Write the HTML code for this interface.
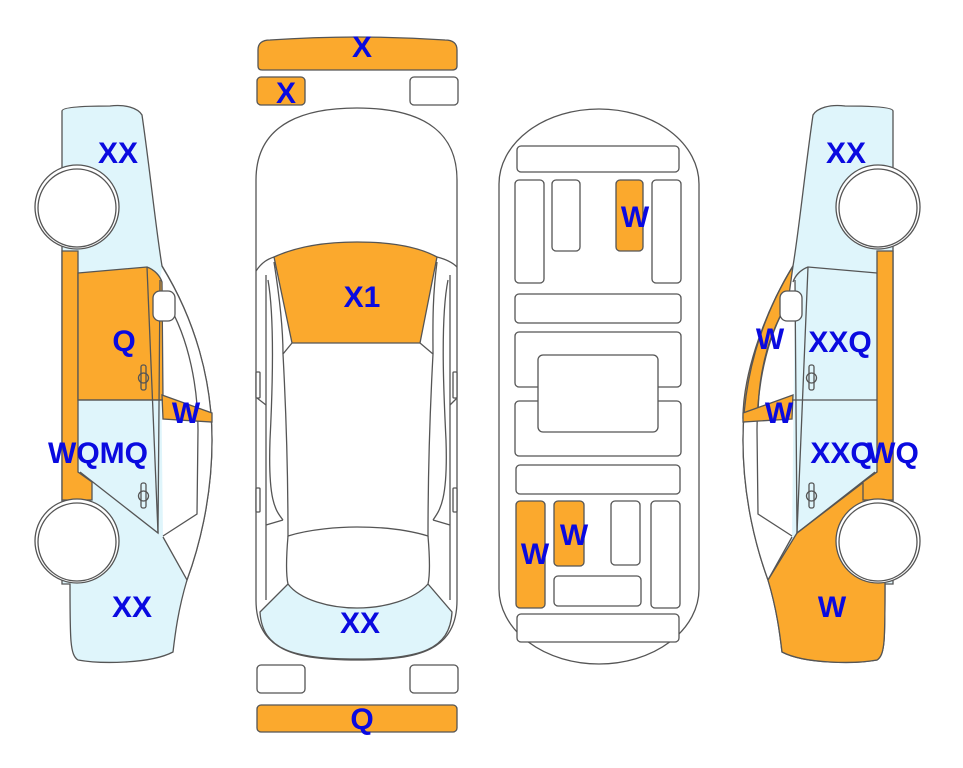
<!DOCTYPE html>
<html><head><meta charset="utf-8"><style>
html,body{margin:0;padding:0;background:#fff;}
svg{display:block;}
text{font-family:"Liberation Sans",Arial,sans-serif;font-weight:bold;font-size:30px;fill:#0a0ae0;text-anchor:middle;}
</style></head><body>
<svg width="963" height="768" viewBox="0 0 963 768" xmlns="http://www.w3.org/2000/svg">

<!-- LEFT SIDE CAR -->
<g stroke="#555" stroke-width="1.3">
  <path d="M62,111 C62,106 100,106 110,106 C125,104 138,108 142,115 C150,170 156,230 162,266 C195,320 212,380 212,440 C212,500 198,550 187,580 C178,610 175,635 173,652 C150,664 100,664 78,660 C70,655 70,640 70,584 L62,584 L62,111 Z" fill="#dff5fb"/>
  <path d="M162,268 C195,320 212,380 212,440 C212,500 198,550 187,580 L163,537 L160,280 Z" fill="#fff" stroke="none"/>
  <path d="M162,266 C195,320 212,380 212,440 C212,500 198,550 187,580 L163,537" fill="none"/>
  <path d="M167,302 C190,340 198,390 198,430 L197,514 L163,536" fill="none"/>
  <path d="M62,251 L78,251 L78,472 L92,482 L92,500 L62,500 Z" fill="#fba92d"/>
  <path d="M78,273 L147,267 C155,270 160,276 162,282 L163,400 L78,400 Z" fill="#fba92d"/>
  <path d="M162,395 L212,413 L212,422 L163,419 Z" fill="#fba92d"/>
  <path d="M78,400 L163,400" fill="none"/>
  <path d="M80,472 L158,533 L160,280" fill="none"/>
  <path d="M147,267 L158,533" fill="none"/>
  <rect x="153" y="291" width="22" height="30" rx="7" fill="#fff"/>
  <rect x="141" y="365" width="5" height="25" rx="2" fill="none"/>
  <circle cx="143.5" cy="378" r="5" fill="none"/>
  <rect x="141" y="483" width="5" height="25" rx="2" fill="none"/>
  <circle cx="143.5" cy="496" r="5" fill="none"/>
  <circle cx="77" cy="207" r="42" fill="#fff"/>
  <circle cx="77" cy="208" r="39" fill="#fff"/>
  <circle cx="77" cy="541" r="42" fill="#fff"/>
  <circle cx="77" cy="542" r="39" fill="#fff"/>
</g>

<!-- RIGHT SIDE CAR (mirror) -->
<g transform="translate(955,0) scale(-1,1)" stroke="#555" stroke-width="1.3">
  <path d="M62,111 C62,106 100,106 110,106 C125,104 138,108 142,115 C150,170 156,230 162,266 C195,320 212,380 212,440 C212,500 198,550 187,580 C178,610 175,635 173,652 C150,664 100,664 78,660 C70,655 70,640 70,584 L62,584 L62,111 Z" fill="#dff5fb"/>
  <path d="M162,268 C195,320 212,380 212,440 C212,500 198,550 187,580 L163,537 L160,280 Z" fill="#fff" stroke="none"/>
  <path d="M78,472 L158,533 L187,580 C178,610 175,635 173,652 C150,664 100,664 78,660 C70,655 70,640 70,584 L70,472 Z" fill="#fba92d"/>
  <path d="M162,266 C195,320 212,380 212,418 L197,418 C197,380 190,340 167,302 Z" fill="#fba92d"/>
  <path d="M162,266 C195,320 212,380 212,440 C212,500 198,550 187,580 L163,537" fill="none"/>
  <path d="M167,302 C190,340 198,390 198,430 L197,514 L163,536" fill="none"/>
  <path d="M62,251 L78,251 L78,472 L92,482 L92,500 L62,500 Z" fill="#fba92d"/>
  <path d="M162,395 L212,413 L212,422 L163,419 Z" fill="#fba92d"/>
  <path d="M78,400 L163,400" fill="none"/>
  <path d="M80,472 L158,533 L160,280" fill="none"/>
  <path d="M78,273 L147,267 C155,270 160,276 162,282" fill="none"/>
  <path d="M147,267 L158,533" fill="none"/>
  <rect x="153" y="291" width="22" height="30" rx="7" fill="#fff"/>
  <rect x="141" y="365" width="5" height="25" rx="2" fill="none"/>
  <circle cx="143.5" cy="378" r="5" fill="none"/>
  <rect x="141" y="483" width="5" height="25" rx="2" fill="none"/>
  <circle cx="143.5" cy="496" r="5" fill="none"/>
  <circle cx="77" cy="207" r="42" fill="#fff"/>
  <circle cx="77" cy="208" r="39" fill="#fff"/>
  <circle cx="77" cy="541" r="42" fill="#fff"/>
  <circle cx="77" cy="542" r="39" fill="#fff"/>
</g>

<!-- TOP VIEW CAR -->
<g stroke="#555" stroke-width="1.3">
  <path d="M258,50 Q258,40 270,40 Q357,34 445,40 Q457,40 457,50 L457,66 Q457,70 452,70 L262,70 Q258,70 258,66 Z" fill="#fba92d"/>
  <rect x="257" y="77" width="48" height="28" rx="4" fill="#fba92d"/>
  <rect x="410" y="77" width="48" height="28" rx="4" fill="#fff"/>
  <rect x="257" y="665" width="48" height="28" rx="4" fill="#fff"/>
  <rect x="410" y="665" width="48" height="28" rx="4" fill="#fff"/>
  <rect x="257" y="705" width="200" height="27" rx="4" fill="#fba92d"/>
  <path d="M256,180 C256,120 310,108 357,108 C404,108 457,120 457,180 L457,600 C457,650 420,660 357,660 C294,660 256,650 256,600 Z" fill="#fff"/>
  <path d="M260,612 L288,584 C300,600 330,608 357,608 C384,608 414,600 428,584 L452,612 C450,650 420,659 357,659 C294,659 262,650 260,612 Z" fill="#dff5fb"/>
  <path d="M274,257 C300,245 330,242 357,242 C384,242 415,245 437,257 L420,343 L292,343 Z" fill="#fba92d"/>
  <path d="M256,271 C262,262 268,259 274,257 M457,267 C452,262 445,259 437,257" fill="none"/>
  <path d="M292,343 L283,354 C286,410 288,470 288,536 C310,529 340,527 357,527 C380,527 405,529 428,536 C428,470 430,410 433,354 L420,343" fill="none"/>
  <path d="M288,536 C286,560 286,575 288,584 M428,536 C430,560 430,575 428,584" fill="none"/>
  <path d="M266,275 L266,600 M450,275 L450,600" fill="none"/>
  <path d="M274,262 C280,300 283,330 283,354 M437,262 C432,300 433,330 433,354" fill="none"/>
  <path d="M268,280 C275,320 272,400 270,440 C268,500 275,510 283,520 M448,280 C440,320 444,400 446,440 C448,500 440,510 433,520" fill="none"/>
  <path d="M257,398 L266,405 M457,398 L450,405 M266,525 L283,520 M450,525 L433,520" fill="none"/>
  <rect x="256" y="372" width="4" height="26" rx="1" fill="#fff"/>
  <rect x="453" y="372" width="4" height="26" rx="1" fill="#fff"/>
  <rect x="256" y="488" width="4" height="24" rx="1" fill="#fff"/>
  <rect x="453" y="488" width="4" height="24" rx="1" fill="#fff"/>
</g>

<!-- UNDERSIDE -->
<g stroke="#555" stroke-width="1.3" fill="#fff">
  <rect x="499" y="109" width="200" height="555" rx="100" ry="75"/>
  <rect x="517" y="146" width="162" height="26" rx="4"/>
  <rect x="515" y="180" width="29" height="103" rx="4"/>
  <rect x="552" y="180" width="28" height="71" rx="4"/>
  <rect x="616" y="180" width="27" height="71" rx="4" fill="#fba92d"/>
  <rect x="652" y="180" width="29" height="103" rx="4"/>
  <rect x="515" y="294" width="166" height="29" rx="4"/>
  <rect x="515" y="332" width="166" height="55" rx="4"/>
  <rect x="515" y="401" width="166" height="55" rx="4"/>
  <rect x="538" y="355" width="120" height="77" rx="5"/>
  <rect x="516" y="465" width="164" height="29" rx="4"/>
  <rect x="516" y="501" width="29" height="107" rx="4" fill="#fba92d"/>
  <rect x="554" y="501" width="30" height="65" rx="4" fill="#fba92d"/>
  <rect x="611" y="501" width="29" height="64" rx="4"/>
  <rect x="651" y="501" width="29" height="107" rx="4"/>
  <rect x="554" y="576" width="87" height="30" rx="4"/>
  <rect x="517" y="614" width="162" height="28" rx="4"/>
</g>

<!-- LABELS -->
<text x="362" y="57">X</text>
<text x="286" y="103">X</text>
<text x="362" y="307">X1</text>
<text x="360" y="633">XX</text>
<text x="362" y="729">Q</text>
<text x="118" y="163">XX</text>
<text x="124" y="351">Q</text>
<text x="186" y="423">W</text>
<text x="98" y="463">WQMQ</text>
<text x="132" y="617">XX</text>
<text x="635" y="227">W</text>
<text x="574" y="545">W</text>
<text x="535" y="564">W</text>
<text x="846" y="163">XX</text>
<text x="770" y="349">W</text>
<text x="840" y="352">XXQ</text>
<text x="779" y="423">W</text>
<text x="842" y="463">XXQ</text>
<text x="893" y="463">WQ</text>
<text x="832" y="617">W</text>
</svg>
</body></html>
